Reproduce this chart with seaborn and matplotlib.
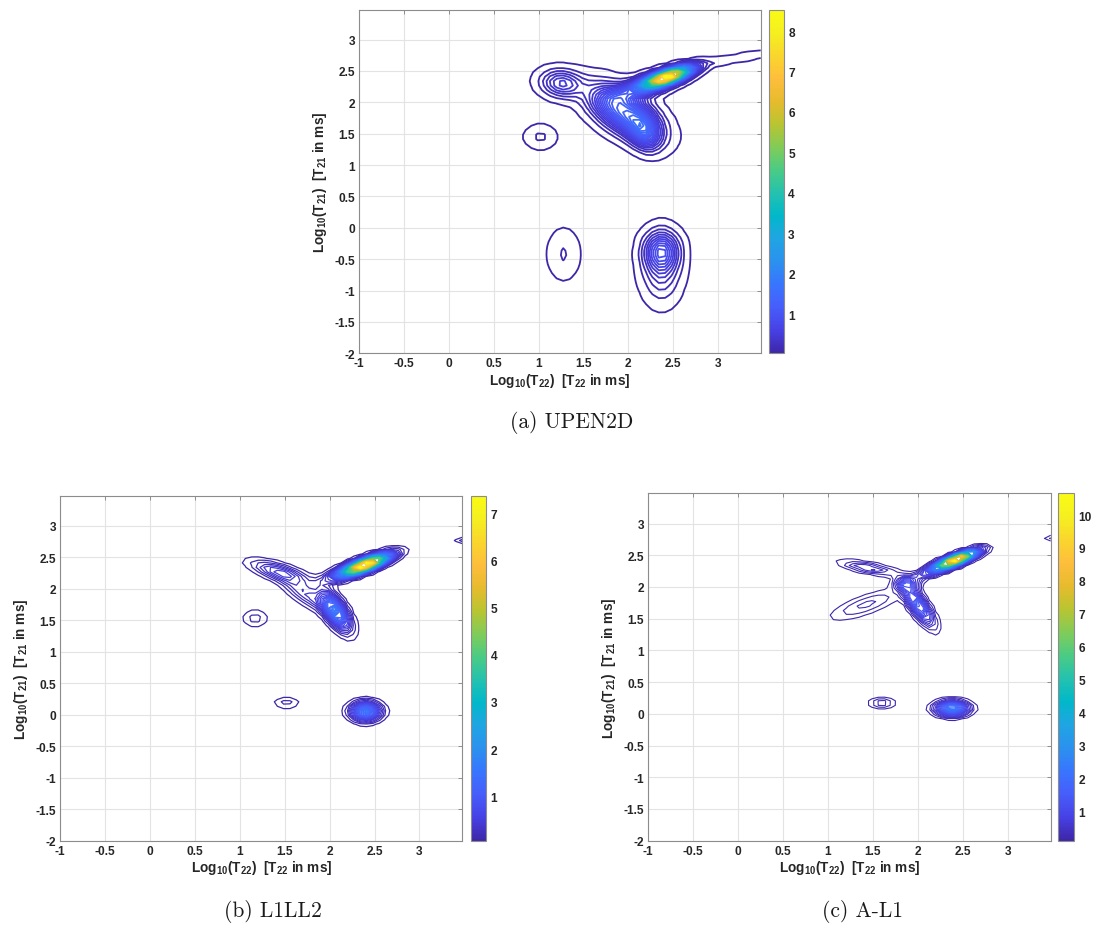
import numpy as np
import matplotlib
matplotlib.use("Agg")
import matplotlib.pyplot as plt
from matplotlib.colors import Normalize
from matplotlib.cm import ScalarMappable
import seaborn as sns

# ---------------------------------------------------------------------------
# T2-T2 relaxation spectra: each map is a sum of (rotated) Gaussian peaks on a
# log10(T) grid.  Per peak: centre (x0, y0) in log10 ms, widths along/across
# the peak axis, axis angle in degrees, and amplitude.
# ---------------------------------------------------------------------------

# (a) UPEN2D
upen_x0    = [2.43, 2.20, 1.95, 2.17, 1.26, 3.20, 1.02, 1.28, 2.37, 2.37]
upen_y0    = [2.40, 2.26, 1.85, 1.55, 2.30, 2.70, 1.45, -0.42, -0.37, -0.70]
upen_su    = [0.17, 0.25, 0.30, 0.18, 0.15, 0.50, 0.11, 0.11, 0.12, 0.13]
upen_sv    = [0.055, 0.09, 0.16, 0.10, 0.13, 0.04, 0.12, 0.25, 0.20, 0.30]
upen_theta = [27, 27, -50, -75, -30, 14, 0, 0, 0, 0]
upen_amp   = [8.0, 1.0, 1.3, 0.9, 0.55, 0.10, 0.13, 0.12, 0.75, 0.30]
upen_clim  = (0.03, 8.53)

# (b) L1LL2
l1ll2_x0    = [2.40, 2.30, 2.06, 1.45, 1.75, 1.17, 1.52, 2.40, 3.52]
l1ll2_y0    = [2.38, 2.33, 1.65, 2.26, 1.90, 1.53, 0.19, 0.055, 2.77]
l1ll2_su    = [0.17, 0.22, 0.20, 0.22, 0.25, 0.09, 0.09, 0.10, 0.08]
l1ll2_sv    = [0.05, 0.06, 0.07, 0.075, 0.08, 0.09, 0.06, 0.09, 0.03]
l1ll2_theta = [29, 29, -68, -25, -45, 0, 0, 0, 0]
l1ll2_amp   = [6.5, 1.2, 1.5, 0.5, 0.35, 0.17, 0.17, 1.5, 0.2]
l1ll2_clim  = (0.06, 7.37)

# (c) A-L1
al1_x0    = [2.42, 2.30, 2.00, 1.88, 1.45, 1.42, 1.60, 2.38, 3.52]
al1_y0    = [2.43, 2.33, 1.72, 2.05, 2.30, 1.72, 0.17, 0.085, 2.78]
al1_su    = [0.15, 0.22, 0.22, 0.08, 0.20, 0.28, 0.09, 0.11, 0.08]
al1_sv    = [0.04, 0.045, 0.06, 0.07, 0.05, 0.09, 0.05, 0.07, 0.03]
al1_theta = [29, 29, -65, 0, -15, 28, 0, 0, 0]
al1_amp   = [10.0, 1.5, 1.6, 1.0, 0.6, 0.35, 0.45, 2.5, 0.3]
al1_clim  = (0.10, 10.66)

panel_titles = ["(a) UPEN2D", "(b) L1LL2", "(c) A-L1"]
x_ticks = [-1, -0.5, 0, 0.5, 1, 1.5, 2, 2.5, 3]
y_ticks = [-2, -1.5, -1, -0.5, 0, 0.5, 1, 1.5, 2, 2.5, 3]

# log10 of the relaxation-time grids (T22: 0.1..3000 ms, T21: 0.01..3000 ms)
log_t22 = np.linspace(-1.0, np.log10(3000.0), 64)
log_t21 = np.linspace(-2.0, np.log10(3000.0), 78)

# parula-like colour map
parula_anchors = [
    (0.2422, 0.1504, 0.6603), (0.2783, 0.2559, 0.8991), (0.2760, 0.3667, 0.9829),
    (0.2206, 0.4603, 0.9973), (0.1687, 0.5703, 0.9359), (0.1248, 0.6459, 0.8883),
    (0.0036, 0.7203, 0.7917), (0.1408, 0.7584, 0.6842), (0.2906, 0.7973, 0.5188),
    (0.5044, 0.7993, 0.3480), (0.7242, 0.7698, 0.1910), (0.9035, 0.7330, 0.1774),
    (0.9956, 0.7434, 0.2371), (0.9786, 0.8386, 0.1766), (0.9628, 0.9373, 0.1265),
    (0.9769, 0.9839, 0.0805),
]

sns.set_theme(style="white")
parula = sns.blend_palette(parula_anchors, n_colors=256, as_cmap=True)

plt.rcParams["font.family"] = ["Liberation Sans", "DejaVu Sans"]
plt.rcParams["font.weight"] = "bold"
plt.rcParams["mathtext.fontset"] = "custom"
plt.rcParams["mathtext.rm"] = "Liberation Sans:bold"
plt.rcParams["mathtext.it"] = "Liberation Sans:bold"
plt.rcParams["mathtext.bf"] = "Liberation Sans:bold"

TICK_FS = 8.6
LABEL_FS = 9.8


def spectrum(x0, y0, su, sv, theta, amp):
    X, Y = np.meshgrid(log_t22, log_t21)
    Z = np.zeros_like(X)
    for cx, cy, a, b, th, A in zip(x0, y0, su, sv, theta, amp):
        t = np.deg2rad(th)
        dx, dy = X - cx, Y - cy
        u = dx * np.cos(t) + dy * np.sin(t)
        v = -dx * np.sin(t) + dy * np.cos(t)
        Z += A * np.exp(-0.5 * (u / a) ** 2 - 0.5 * (v / b) ** 2)
    return X, Y, Z


def draw_panel(fig, ax_rect, cb_rect, params, clim, lw):
    X, Y, Z = spectrum(*params)
    Z = Z * (clim[1] / Z.max())
    ax = fig.add_axes(ax_rect)
    cax = fig.add_axes(cb_rect)
    norm = Normalize(vmin=clim[0], vmax=clim[1])
    levels = np.linspace(clim[0], clim[1], 100)
    ax.contour(X, Y, Z, levels=levels, cmap=parula, norm=norm, linewidths=lw)

    ax.set_xlim(-1, np.log10(3000.0))
    ax.set_ylim(-2, np.log10(3000.0))
    ax.set_xticks(x_ticks)
    ax.set_yticks(y_ticks)
    ax.set_xticklabels([f"{v:g}" for v in x_ticks])
    ax.set_yticklabels([f"{v:g}" for v in y_ticks])
    ax.grid(True, color="#e3e3e3", linewidth=0.8)
    ax.set_axisbelow(True)
    ax.tick_params(direction="in", length=3, width=0.6, top=True, right=True,
                   labelsize=TICK_FS, colors="#808080", labelcolor="#262626", pad=3)
    for s in ax.spines.values():
        s.set_color("#8c8c8c")
        s.set_linewidth(0.8)
    ax.set_xlabel(r"Log$_{10}$(T$_{22}$)  [T$_{22}$ in ms]", fontsize=LABEL_FS,
                  fontweight="bold", color="#262626", labelpad=1)
    ax.set_ylabel(r"Log$_{10}$(T$_{21}$)  [T$_{21}$ in ms]", fontsize=LABEL_FS,
                  fontweight="bold", color="#262626", labelpad=4)

    sm = ScalarMappable(norm=norm, cmap=parula)
    cb = fig.colorbar(sm, cax=cax)
    cb.set_ticks(np.arange(1, int(clim[1]) + 1))
    cb.ax.tick_params(direction="in", length=3, width=0.6, labelsize=TICK_FS,
                      colors="#808080", labelcolor="#262626", pad=3)
    cb.outline.set_edgecolor("#8c8c8c")
    cb.outline.set_linewidth(0.8)
    return ax


W, H = 1094, 929
fig = plt.figure(figsize=(W / 100, H / 100), dpi=100)
fig.patch.set_facecolor("white")


def rect(x0, x1, y0, y1):
    return [x0 / W, 1 - y1 / H, (x1 - x0) / W, (y1 - y0) / H]


draw_panel(fig, rect(359.3, 760.7, 10.7, 354.3), rect(769, 784, 10.7, 354.3),
           (upen_x0, upen_y0, upen_su, upen_sv, upen_theta, upen_amp),
           upen_clim, 1.3)
draw_panel(fig, rect(60.3, 462.3, 496.7, 841.7), rect(470.7, 486.3, 496.7, 841.7),
           (l1ll2_x0, l1ll2_y0, l1ll2_su, l1ll2_sv, l1ll2_theta, l1ll2_amp),
           l1ll2_clim, 0.9)
draw_panel(fig, rect(648.3, 1050.7, 494.3, 841.7), rect(1058.3, 1074.3, 494.3, 841.7),
           (al1_x0, al1_y0, al1_su, al1_sv, al1_theta, al1_amp),
           al1_clim, 0.8)

caption_pos = [(572, 423), (273, 912), (862, 912)]
for (cx, cy), t in zip(caption_pos, panel_titles):
    fig.text(cx / W, 1 - cy / H, t, ha="center", va="center", fontsize=15.5,
             family="cmr10", fontweight="normal", color="#1a1a1a")

fig.savefig("out.png", dpi=100, facecolor="white")
